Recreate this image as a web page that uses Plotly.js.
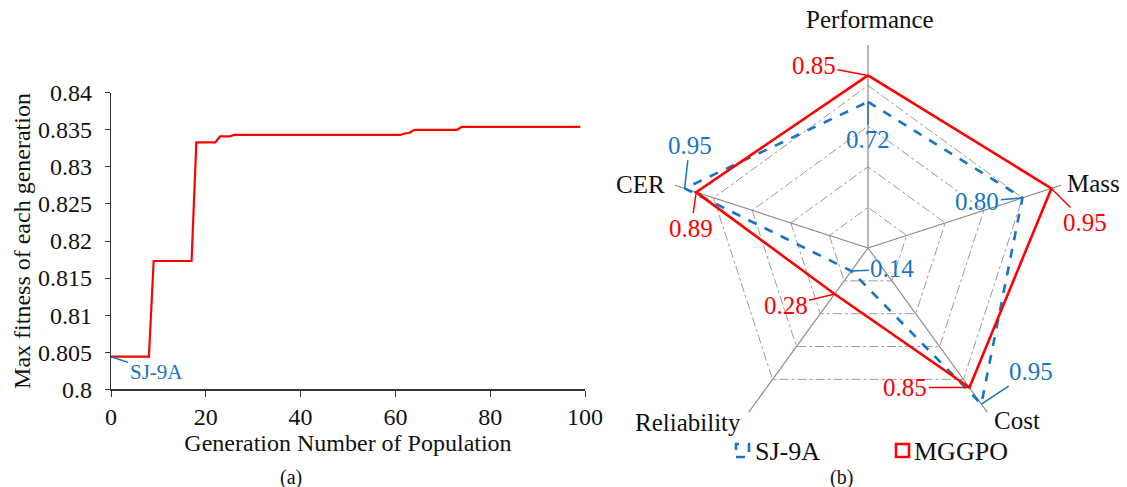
<!DOCTYPE html>
<html>
<head>
<meta charset="utf-8">
<script src="https://cdn.plot.ly/plotly-3.0.1.min.js"></script>
<style>html,body{margin:0;padding:0;background:#fff;} #chart{width:1127px;height:487px;}</style>
</head>
<body>
<div id="chart"></div>
<script>
// ---- Data: panel (a) ----
const generations = [0, 8, 9, 17, 18, 22, 23, 25, 26, 61, 62, 63, 64, 73, 74, 99];
const maxFitness = [0.8044, 0.8044, 0.8173, 0.8173, 0.8333, 0.8333, 0.8341, 0.8341, 0.8343, 0.8343, 0.8345, 0.8346, 0.8350, 0.8350, 0.8354, 0.8354];
const yTickVals = [0.8, 0.805, 0.81, 0.815, 0.82, 0.825, 0.83, 0.835, 0.84];
const yTickText = ["0.8", "0.805", "0.81", "0.815", "0.82", "0.825", "0.83", "0.835", "0.84"];
const xTickVals = [0, 20, 40, 60, 80, 100];

// ---- Data: panel (b) ----
const criteria = ["Performance", "Mass", "Cost", "Reliability", "CER"];
const sj9a = [0.72, 0.80, 0.95, 0.14, 0.95];
const mggpo = [0.85, 0.95, 0.85, 0.28, 0.89];
const seriesNames = ["SJ-9A", "MGGPO"];

const W = 1127, H = 487;
const FONT = "Liberation Serif, Times New Roman, serif";
const BLUE = "#1874c4";
const RED = "#ff0000";
const INK = "#111";

// polar geometry (pixels)
const PCX = 868, PCY = 248, PR = 203;
const polarDomX = [(PCX - PR) / W, (PCX + PR) / W];
const polarDomY = [1 - (PCY + PR) / H, 1 - (PCY - PR) / H];

function polarPaper(r, i) {
  const a = (90 - 72 * i) * Math.PI / 180;
  return {x: (PCX + r * PR * Math.cos(a)) / W, y: 1 - (PCY - r * PR * Math.sin(a)) / H};
}

const close = arr => arr.concat([arr[0]]);

const traces = [
  {
    type: "scatter", x: generations, y: maxFitness, mode: "lines",
    line: {color: RED, width: 2.2}, showlegend: false, xaxis: "x", yaxis: "y", hoverinfo: "x+y"
  },
  {
    type: "scatterpolar", r: close(sj9a), theta: close(criteria), mode: "lines", name: seriesNames[0],
    line: {color: BLUE, width: 2.6, dash: "dash"}, subplot: "polar", showlegend: false
  },
  {
    type: "scatterpolar", r: close(mggpo), theta: close(criteria), mode: "lines", name: seriesNames[1],
    line: {color: RED, width: 2.6}, subplot: "polar", showlegend: false
  }
];

// label offsets (px) from the point to the label
const sjOffsets = [[0, 38], [-45, 4], [50, -33], [41, -2], [5, -43]];
const mgOffsets = [[-54, -10], [34, 34], [-64, 0], [-49, 12], [-5, 36]];

const annotations = [];
function addLabels(vals, offs, color) {
  vals.forEach((v, i) => {
    const p = polarPaper(v, i);
    annotations.push({
      xref: "paper", yref: "paper", x: p.x, y: p.y, text: v.toFixed(2),
      showarrow: true, arrowhead: 0, arrowwidth: 1.5, arrowcolor: color, standoff: 0,
      ax: offs[i][0], ay: offs[i][1], font: {family: FONT, size: 25, color: color}
    });
  });
}
addLabels(sj9a, sjOffsets, BLUE);
addLabels(mggpo, mgOffsets, RED);

// category labels around the radar
const catPlace = [
  {xa: "center", ya: "middle", dx: 2, dy: 25},
  {xa: "left", ya: "middle", dx: 4, dy: 2},
  {xa: "left", ya: "middle", dx: 5, dy: -8},
  {xa: "right", ya: "middle", dx: -6, dy: -10},
  {xa: "right", ya: "middle", dx: -8, dy: 1}
];
criteria.forEach((c, i) => {
  const p = polarPaper(1, i);
  annotations.push({
    xref: "paper", yref: "paper", x: p.x, y: p.y, text: c, showarrow: false,
    xanchor: catPlace[i].xa, yanchor: catPlace[i].ya, xshift: catPlace[i].dx, yshift: catPlace[i].dy,
    font: {family: FONT, size: 25, color: INK}
  });
});

// SJ-9A marker on panel (a)
annotations.push({
  xref: "x", yref: "y", x: generations[0], y: maxFitness[0], text: "SJ-9A",
  showarrow: true, arrowhead: 0, arrowwidth: 1.5, arrowcolor: BLUE, standoff: 1,
  ax: 45, ay: 15, font: {family: FONT, size: 21, color: BLUE}
});
// panel captions
annotations.push({xref: "paper", yref: "paper", x: 291 / W, y: 1 - 477 / H, xanchor: "center", yanchor: "middle",
  text: "(a)", showarrow: false, font: {family: FONT, size: 20, color: INK}});
annotations.push({xref: "paper", yref: "paper", x: 841 / W, y: 1 - 477 / H, xanchor: "center", yanchor: "middle",
  text: "(b)", showarrow: false, font: {family: FONT, size: 20, color: INK}});
// custom legend text
annotations.push({xref: "paper", yref: "paper", x: 753 / W, y: 1 - 451 / H, xanchor: "left", yanchor: "middle",
  text: seriesNames[0], showarrow: false, font: {family: FONT, size: 26, color: INK}});
annotations.push({xref: "paper", yref: "paper", x: 912 / W, y: 1 - 451 / H, xanchor: "left", yanchor: "middle",
  text: seriesNames[1], showarrow: false, font: {family: FONT, size: 26, color: INK}});

const shapes = [
  {type: "rect", xref: "paper", yref: "paper", x0: 736 / W, x1: 749 / W, y0: 1 - 457 / H, y1: 1 - 444 / H,
   line: {color: BLUE, width: 2.6, dash: "dash"}},
  {type: "rect", xref: "paper", yref: "paper", x0: 896 / W, x1: 909 / W, y0: 1 - 457 / H, y1: 1 - 444 / H,
   line: {color: RED, width: 2.6}}
];

const layout = {
  width: W, height: H,
  margin: {l: 0, r: 0, t: 0, b: 0},
  paper_bgcolor: "#fff", plot_bgcolor: "#fff",
  font: {family: FONT, size: 24, color: INK},
  showlegend: false,
  xaxis: {
    domain: [111 / W, 585 / W], range: [0, 100], tickvals: xTickVals,
    showgrid: false, zeroline: false, showline: true, linecolor: "#333", linewidth: 1.3,
    ticks: "outside", ticklen: 6, tickcolor: "#333", tickfont: {family: FONT, size: 24, color: INK},
    title: {text: "Generation Number of Population", font: {family: FONT, size: 24, color: INK}, standoff: 3},
    automargin: false
  },
  yaxis: {
    domain: [1 - 389.3 / H, 1 - 92.7 / H], range: [0.8, 0.84], tickvals: yTickVals, ticktext: yTickText,
    showgrid: false, zeroline: false, showline: true, linecolor: "#333", linewidth: 1.3,
    ticks: "outside", ticklen: 5, tickcolor: "#333", ticklabelstandoff: 8,
    tickfont: {family: FONT, size: 24, color: INK},
    title: {text: "Max fitness of each generation", font: {family: FONT, size: 24, color: INK}, standoff: 0},
    automargin: false
  },
  polar: {
    domain: {x: polarDomX, y: polarDomY},
    bgcolor: "rgba(0,0,0,0)",
    gridshape: "linear",
    radialaxis: {
      range: [0, 1], tickvals: [0.2, 0.4, 0.6, 0.8, 1.0], showticklabels: false, ticks: "",
      showline: false, gridcolor: "#9a9a9a", griddash: "dashdot", gridwidth: 1
    },
    angularaxis: {
      direction: "clockwise", rotation: 90, showline: false, ticks: "", showticklabels: false,
      gridcolor: "#8a8a8a", gridwidth: 1.2
    }
  },
  annotations: annotations,
  shapes: shapes
};

Plotly.newPlot("chart", traces, layout, {displayModeBar: false, staticPlot: true});
</script>
</body>
</html>
